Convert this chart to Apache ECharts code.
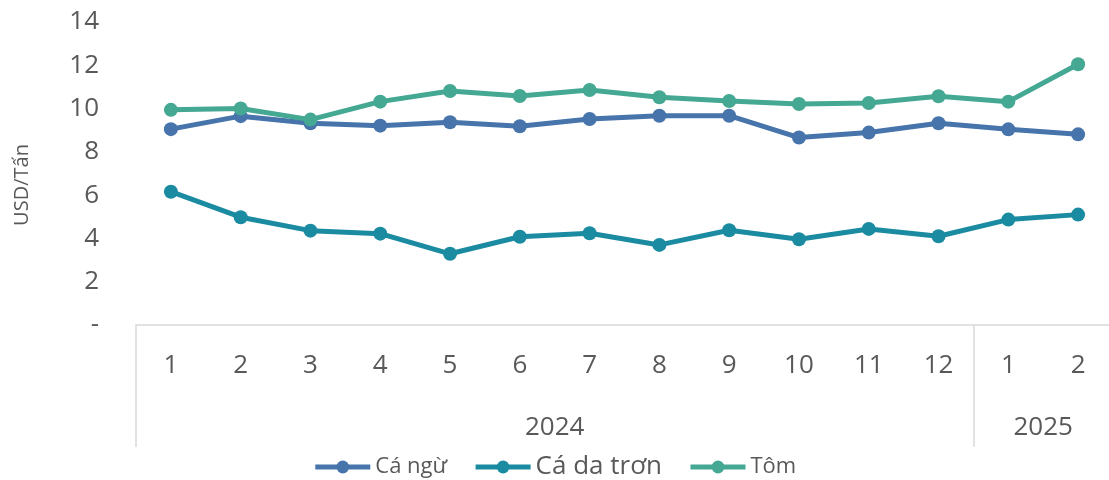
<!DOCTYPE html>
<html>
<head>
<meta charset="utf-8">
<script src="https://cdn.jsdelivr.net/npm/echarts@6/dist/echarts.min.js"></script>
<style>
    html, body { margin: 0; padding: 0; background: #fff; }
    #chart { width: 1109px; height: 480px; }
</style>
</head>
<body>
<div id="chart"></div>
<script>
// months on the first axis row, years on the second
const months = ['1', '2', '3', '4', '5', '6', '7', '8', '9', '10', '11', '12', '1', '2'];
const years = ['2024', '2025'];
const yearSpans = [12, 2];

const caNgu = [9.05, 9.65, 9.32, 9.21, 9.37, 9.18, 9.52, 9.67, 9.67, 8.66, 8.89, 9.32, 9.04, 8.81];
const caDaTron = [6.16, 4.98, 4.36, 4.22, 3.29, 4.08, 4.24, 3.70, 4.38, 3.96, 4.44, 4.10, 4.87, 5.10];
const tom = [9.94, 10.0, 9.49, 10.32, 10.81, 10.58, 10.86, 10.52, 10.35, 10.21, 10.26, 10.57, 10.32, 12.05];

const yTicks = [0, 2, 4, 6, 8, 10, 12, 14];

const textColor = '#595959';
const lineGrey = '#d9d9d9';
const font = 'Open Sans';

// year label centers and separator positions, from the spans
let acc = 0;
const yearCenters = [];
const yearBounds = [0];
yearSpans.forEach(s => {
    yearCenters.push(acc + s / 2);
    acc += s;
    yearBounds.push(acc);
});

function mkSeries(name, data, color) {
    return {
        name: name,
        type: 'line',
        xAxisIndex: 0,
        data: data,
        symbol: 'circle',
        symbolSize: 14,
        itemStyle: { color: color },
        lineStyle: { color: color, width: 5 },
        emphasis: { disabled: true }
    };
}

const chart = echarts.init(document.getElementById('chart'));
chart.setOption({
    animation: false,
    textStyle: { fontFamily: font },
    grid: { left: 136, top: 22, width: 977, bottom: 155, outerBoundsMode: 'none' },
    legend: {
        bottom: -5,
        left: 'center',
        itemWidth: 55,
        itemHeight: 16,
        itemGap: 26,
        data: ['Cá ngừ', 'Cá da trơn', 'Tôm'],
        lineStyle: { width: 5 },
        formatter: name => name === 'Cá da trơn' ? '{b|' + name + '}' : '{a|' + name + '}',
        textStyle: {
            color: textColor,
            fontFamily: font,
            rich: {
                a: { fontSize: 22, color: textColor, fontFamily: font },
                b: { fontSize: 26, color: textColor, fontFamily: font }
            }
        }
    },
    xAxis: [
        {
            type: 'category',
            data: months,
            boundaryGap: true,
            axisLine: { show: true, lineStyle: { color: lineGrey, width: 1.5 } },
            axisTick: { show: false },
            axisLabel: { color: textColor, fontSize: 26, margin: 28, fontFamily: font },
            splitLine: { show: false }
        },
        {
            type: 'value',
            position: 'bottom',
            min: 0,
            max: months.length,
            axisLine: { show: false },
            axisTick: {
                show: true,
                customValues: yearBounds,
                length: 122,
                lineStyle: { color: lineGrey, width: 1.5 }
            },
            axisLabel: {
                customValues: yearCenters,
                formatter: v => years[yearCenters.indexOf(v)] || '',
                color: textColor,
                fontSize: 26,
                margin: 90,
                fontFamily: font
            },
            splitLine: { show: false }
        }
    ],
    yAxis: {
        type: 'value',
        min: yTicks[0],
        max: yTicks[yTicks.length - 1],
        interval: 2,
        axisLine: { show: false },
        axisTick: { show: false },
        splitLine: { show: false },
        axisLabel: {
            color: textColor,
            fontSize: 26,
            margin: 37,
            fontFamily: font,
            formatter: v => v === 0 ? '-' : String(v)
        }
    },
    graphic: [{
        type: 'text',
        x: 22,
        y: 185,
        rotation: Math.PI / 2,
        style: {
            text: 'USD/Tấn',
            fill: textColor,
            font: '20px "Open Sans"',
            align: 'center',
            verticalAlign: 'middle'
        }
    }],
    series: [
        mkSeries('Cá ngừ', caNgu, '#4674AB'),
        mkSeries('Cá da trơn', caDaTron, '#1B8BA1'),
        mkSeries('Tôm', tom, '#44A893')
    ]
});
</script>
</body>
</html>
